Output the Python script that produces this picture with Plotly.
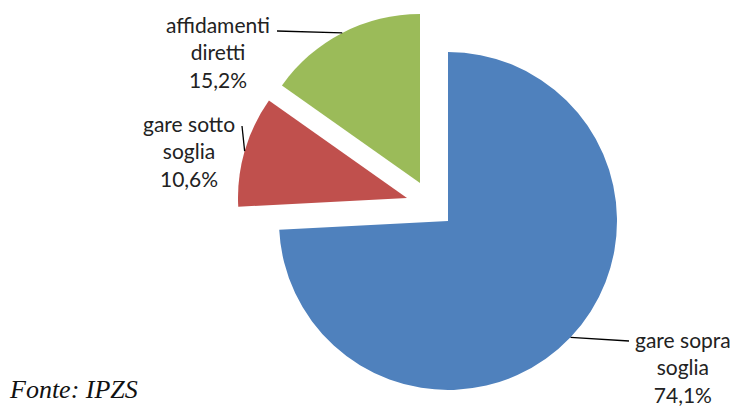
import math
import plotly.graph_objects as go

categories = ["gare sopra soglia", "gare sotto soglia", "affidamenti diretti"]
values = [74.1, 10.6, 15.2]
label_texts = ["gare sopra<br>soglia<br>74,1%", "gare sotto<br>soglia<br>10,6%", "affidamenti<br>diretti<br>15,2%"]
colors = ["#4F81BD", "#C0504D", "#9BBB59"]

# --- styling / layout constants (pixels) ---
W, H = 735, 406
CX, CY, R = 448, 221, 169                 # pie centre and radius
explode = [(0, 0), (-41, -23), (-28, -38)]  # exploded slice offsets
label_pos = [(683, 367), (189, 151), (218, 52)]
line_start = [(629, 341), (242, 126), (277, 31)]

total = sum(values)
fig = go.Figure()
annotations, shapes = [], []
cum = 0
for i, v in enumerate(values):
    ox, oy = explode[i]
    cx, cy = CX + ox, CY + oy
    slice_colors = [colors[j] if j == i else "rgba(0,0,0,0)" for j in range(len(values))]
    fig.add_trace(go.Pie(
        labels=categories, values=values, sort=False, direction="clockwise", rotation=0,
        marker=dict(colors=slice_colors, line=dict(width=0)),
        textinfo="none", hoverinfo="skip" if False else "label+percent", showlegend=False,
        domain=dict(x=[(cx - R) / W, (cx + R) / W], y=[1 - (cy + R) / H, 1 - (cy - R) / H]),
    ))
    mid = (cum + v / 2) / total * 2 * math.pi
    cum += v
    tipx = cx + R * math.sin(mid)
    tipy = cy - R * math.cos(mid)
    sx, sy = line_start[i]
    shapes.append(dict(type="line", xref="paper", yref="paper",
                       x0=sx / W, y0=1 - sy / H, x1=tipx / W, y1=1 - tipy / H,
                       line=dict(color="black", width=1.3)))
    lx, ly = label_pos[i]
    annotations.append(dict(text=label_texts[i], x=lx / W, y=1 - ly / H, xref="paper", yref="paper",
                            showarrow=False, align="center", xanchor="center", yanchor="middle",
                            font=dict(family="Lato", size=21, color="#222222")))

annotations.append(dict(text="<i>Fonte: IPZS</i>", x=7 / W, y=0, xref="paper", yref="paper",
                        xanchor="left", yanchor="bottom", showarrow=False,
                        font=dict(family="Liberation Serif", size=26, color="#111111")))

fig.update_layout(width=W, height=H, margin=dict(l=0, r=0, t=0, b=0),
                  paper_bgcolor="white", plot_bgcolor="white",
                  annotations=annotations, shapes=shapes)
fig.write_html("out.html", config={"displayModeBar": False},
               post_script="document.body.style.margin='0';")
